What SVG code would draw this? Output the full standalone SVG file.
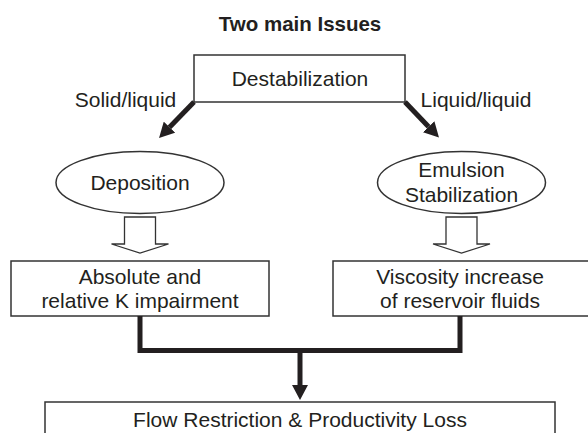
<svg xmlns="http://www.w3.org/2000/svg" width="588" height="433" viewBox="0 0 588 433">
  <style>
    text { font-family: "Liberation Sans", Arial, sans-serif; font-size: 21px; fill: #231f20; text-anchor: middle; }
    .title { font-weight: bold; font-size: 20.5px; }
    .box { fill: #ffffff; stroke: #333333; stroke-width: 1.5; }
    .hollow { fill: #ffffff; stroke: #333333; stroke-width: 1.3; stroke-linejoin: miter; }
    .thick { fill: none; stroke: #231f20; stroke-width: 5; stroke-linejoin: miter; }
  </style>
  <defs>
    <marker id="ah" viewBox="0 0 15 16" markerUnits="userSpaceOnUse" markerWidth="15" markerHeight="16" refX="0" refY="8" orient="auto">
      <path d="M0,0 L15,8 L0,16 z" fill="#231f20"/>
    </marker>
  </defs>
  <rect width="588" height="433" fill="#ffffff"/>

  <text class="title" x="300" y="31">Two main Issues</text>

  <g id="destabilization">
    <rect class="box" x="194" y="55" width="211" height="47"/>
    <text x="300" y="86">Destabilization</text>
  </g>

  <g id="label-solid">
    <text x="125.5" y="107">Solid/liquid</text>
  </g>
  <g id="label-liquid">
    <text x="476" y="107">Liquid/liquid</text>
  </g>

  <g id="deposition">
    <ellipse class="box" cx="140" cy="182.5" rx="84" ry="31"/>
    <text x="140" y="190">Deposition</text>
  </g>

  <g id="emulsion">
    <ellipse class="box" cx="461.5" cy="182.5" rx="84" ry="31"/>
    <text x="461.5" y="177">Emulsion</text>
    <text x="461.5" y="202">Stabilization</text>
  </g>

  <g id="absolute">
    <rect class="box" x="11" y="261" width="258" height="55"/>
    <text x="140" y="284">Absolute and</text>
    <text x="140" y="308">relative K impairment</text>
  </g>

  <g id="viscosity">
    <rect class="box" x="333" y="261" width="258" height="55"/>
    <text x="460" y="284">Viscosity increase</text>
    <text x="460" y="308">of reservoir fluids</text>
  </g>

  <g id="flow-restriction">
    <rect class="box" x="45" y="402" width="510" height="45"/>
    <text x="300" y="427">Flow Restriction &amp; Productivity Loss</text>
  </g>

  <g id="connectors">
    <path class="thick" d="M194,102 L169.5,127.2" marker-end="url(#ah)"/>
    <path class="thick" d="M405,102 L428.6,126.7" marker-end="url(#ah)"/>
    <path class="hollow" d="M124.5,217 V244 H111.5 L140,253 L168.5,244 H155.5 V217 Z"/>
    <path class="hollow" d="M446,217 V244 H433 L461.5,253 L490,244 H477 V217 Z"/>
    <path class="thick" d="M140,316 V350.5 H460 V316"/>
    <path class="thick" d="M300,350.5 V385" marker-end="url(#ah)"/>
  </g>
</svg>
